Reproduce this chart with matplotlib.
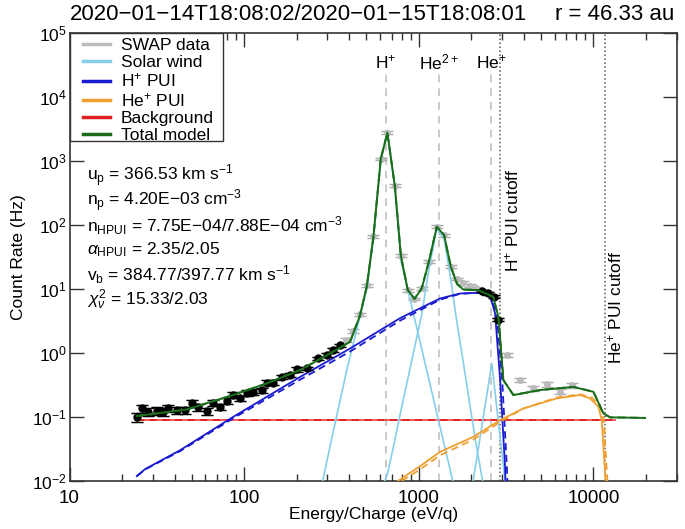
import numpy as np
import matplotlib
matplotlib.use('Agg')
import matplotlib.pyplot as plt
from matplotlib.patches import Rectangle

plt.rcParams['font.family'] = ['Liberation Sans', 'DejaVu Sans']
plt.rcParams['mathtext.fontset'] = 'custom'
plt.rcParams['mathtext.rm'] = 'Liberation Sans'
plt.rcParams['mathtext.it'] = 'Liberation Sans:italic'
plt.rcParams['mathtext.bf'] = 'Liberation Sans:bold'

# SWAP data (energy/charge in eV/q, count rate in Hz)
data_e = [24.3, 25.9, 28.3, 31.6, 34.4, 36.8, 41.1, 45.9, 50.1, 54.7, 61.1, 66.6,
          72.8, 79.5, 86.7, 94.7, 103.5, 112.9, 126.1, 134.7, 147, 164, 183, 200,
          228, 266, 297, 324, 354, 385, 421, 460, 504, 550, 606, 661, 729, 790,
          865, 945, 1040, 1142, 1268, 1396, 1527, 1656, 1800, 1960, 2130, 2300,
          2500, 2700, 2860, 3192, 3802, 4530, 5405, 6442, 7516]
data_c = [0.098, 0.135, 0.120, 0.124, 0.120, 0.135, 0.127, 0.127, 0.162, 0.140, 0.123, 0.166,
          0.143, 0.178, 0.219, 0.194, 0.238, 0.246, 0.262, 0.340, 0.340, 0.423, 0.450, 0.552,
          0.572, 0.820, 0.924, 1.107, 1.32, 1.6, 2.2, 4.0, 11.5, 66.5, 1086, 2782, 411, 33,
          9.6, 7.0, 10.2, 26.7, 94, 69.7, 22.2, 14.3, 12.5, 11.2, 10.3, 9.3,
          8.6, 7.6, 3.3, 0.92, 0.375, 0.278, 0.325, 0.246, 0.313]
data_relerr = [0.15, 0.14, 0.14, 0.14, 0.14, 0.13, 0.13, 0.13, 0.12, 0.12, 0.12, 0.12,
               0.11, 0.11, 0.10, 0.10, 0.10, 0.10, 0.09, 0.09, 0.09, 0.08, 0.08, 0.08,
               0.07, 0.07, 0.07, 0.06, 0.06, 0.06, 0.06, 0.05, 0.05, 0.05, 0.05, 0.05, 0.05, 0.05,
               0.05, 0.05, 0.05, 0.05, 0.05, 0.05, 0.05, 0.05, 0.05, 0.05, 0.05, 0.05,
               0.05, 0.05, 0.05, 0.07, 0.08, 0.09, 0.09, 0.09, 0.09]
# points used in the fit (drawn black)
fit_e = data_e[:29] + data_e[49:53]
fit_c = data_c[:29] + data_c[49:53]
fit_err = data_relerr[:29] + data_relerr[49:53]

# solar wind components
sw_h_e = [282, 310, 387, 504, 550, 606, 661, 729, 790, 1564]
sw_h_c = [0.01, 0.034, 0.54, 10, 62, 1080, 2775, 405, 28, 0.01]
sw_he2_e = [640, 661, 729, 790, 865, 945, 1040, 1142, 1268, 1396, 1527, 1656, 1800, 1960, 2130, 2320]
sw_he2_c = [0.01, 0.0125, 0.043, 0.124, 0.39, 1.2, 4.0, 20, 88, 62, 13.8, 2.9, 0.70, 0.155, 0.037, 0.01]
sw_hep_e = [2050, 2620, 3120]
sw_hep_c = [0.01, 0.686, 0.01]

# H+ pickup ions (solid / dashed fit)
hpui_e = [24.3, 27.1, 43, 86.7, 209, 404, 782, 1324, 1724, 2244, 2560, 2735, 2924, 3120, 3160]
hpui_c = [0.0118, 0.0152, 0.030, 0.10, 0.42, 1.17, 3.5, 7.1, 8.5, 8.7, 7.7, 4.2, 0.375, 0.0165, 0.005]
hpui2_e = [24.3, 27.1, 43, 86.7, 209, 404, 782, 1324, 1724, 2244, 2560, 2800, 3000, 3200, 3250]
hpui2_c = [0.0118, 0.0150, 0.029, 0.095, 0.38, 1.05, 3.2, 6.8, 8.4, 8.8, 8.0, 4.0, 0.4, 0.015, 0.005]

# He+ pickup ions (solid / dashed fit)
hepui_e = [760, 1017, 1324, 2055, 2922, 3972, 6166, 8386, 9572, 10680, 11170, 11410, 11670, 11900]
hepui_c = [0.0099, 0.0169, 0.0283, 0.0486, 0.0888, 0.135, 0.194, 0.219, 0.194, 0.144, 0.0887, 0.034, 0.0131, 0.006]
hepui2_e = [800, 1017, 1324, 2055, 2922, 3972, 6166, 8386, 9800, 10900, 11450, 11700, 11950, 12200]
hepui2_c = [0.0099, 0.0150, 0.0250, 0.0440, 0.083, 0.135, 0.200, 0.225, 0.200, 0.150, 0.090, 0.034, 0.013, 0.006]

# background
bkg_e = [24.3, 13300]
bkg_c = [0.09, 0.09]

# total model
tot_e = [24.3, 46.9, 86.3, 134.6, 209, 323, 404, 460, 504, 550, 606, 661, 729, 790,
         865, 945, 1040, 1142, 1268, 1396, 1527, 1656, 1800, 2188, 2665, 2858, 3052,
         3483, 4952, 7676, 10000, 11410, 12470, 19770]
tot_c = [0.103, 0.130, 0.219, 0.333, 0.538, 1.04, 1.49, 3.8, 11.0, 66, 1086, 2782, 411, 33,
         9.6, 7.0, 10.2, 26.7, 94, 69.7, 22.2, 12.0, 9.8, 9.6, 7.55, 3.67, 0.375,
         0.219, 0.262, 0.294, 0.246, 0.113, 0.098, 0.096]

cutoff_h = 2900
cutoff_he = 11600
ion_lines = [650, 1300, 2600]
ion_names = [r'H$^{+}$', r'He$^{2+}$', r'He$^{+}$']

fig = plt.figure(figsize=(6.85, 5.29), dpi=100)
ax = fig.add_axes([0.1015, 0.0913, 0.8864, 0.8457])
ax.set_xscale('log')
ax.set_yscale('log')

for e in ion_lines:
    ax.plot([e, e], [0.01, 2.3e4], color='#bbbbbb', lw=1.1, ls=(0, (5, 4)), zorder=1)
for e in [cutoff_h, cutoff_he]:
    ax.axvline(e, color='#555555', lw=1.1, ls=(0, (1, 1.6)), zorder=1)

ax.plot(bkg_e, bkg_c, color='#f05050', lw=1.3, zorder=3)
ax.plot(bkg_e, bkg_c, color='#e02020', lw=1.3, ls=(0, (4, 3)), zorder=3)

c_data = np.array(data_c)
ax.errorbar(data_e, data_c, yerr=c_data*np.array(data_relerr), fmt='o', ms=4,
            color='#bbbbbb', ecolor='#aaaaaa', elinewidth=1, capsize=4, capthick=1, zorder=2)

ax.plot(sw_h_e, sw_h_c, color='#87ceeb', lw=1.2, zorder=3)
ax.plot(sw_he2_e, sw_he2_c, color='#87ceeb', lw=1.2, zorder=3)
ax.plot(sw_hep_e, sw_hep_c, color='#87ceeb', lw=1.2, zorder=3)

ax.plot(hpui2_e, hpui2_c, color='#1a1ad0', lw=1.3, ls=(0, (4, 2.5)), zorder=4)
ax.plot(hpui_e, hpui_c, color='#1a1ad0', lw=1.3, zorder=4)
ax.plot(hepui2_e, hepui2_c, color='#f0a030', lw=1.3, ls=(0, (4, 2.5)), zorder=4)
ax.plot(hepui_e, hepui_c, color='#f0a030', lw=1.3, zorder=4)

c_fit = np.array(fit_c)
ax.errorbar(fit_e, fit_c, yerr=c_fit*np.array(fit_err), fmt='o', ms=5,
            color='black', ecolor='black', elinewidth=1, capsize=4, capthick=1, zorder=5)

ax.plot(tot_e, tot_c, color='#1a6e1a', lw=1.4, ls=(0, (4, 2.5)), zorder=6)
ax.plot(tot_e, tot_c, color='#1a6e1a', lw=1.4, zorder=6)

# legend: proxies, frame drawn by hand so it sits in the axes corner
handles = [
    plt.Line2D([], [], color='#bbbbbb', lw=2.5),
    plt.Line2D([], [], color='#87ceeb', lw=2.5),
    plt.Line2D([], [], color='#1a1ad0', lw=2.5),
    plt.Line2D([], [], color='#f0a030', lw=2.5),
    plt.Line2D([], [], color='#e02020', lw=2.5),
    plt.Line2D([], [], color='#1a6e1a', lw=2.5),
]
labels = ['SWAP data', 'Solar wind', r'H$^{+}$ PUI', r'He$^{+}$ PUI', 'Background', 'Total model']
ax.add_patch(Rectangle((0, 0.7593), 0.2528, 0.2407, transform=ax.transAxes, facecolor='white',
                       edgecolor='#333333', lw=1.0, zorder=7))
leg = ax.legend(handles, labels, loc='upper left', bbox_to_anchor=(0.0222, 0.99), borderaxespad=0,
                fontsize=12.5, frameon=False, handlelength=1.55, handletextpad=0.63,
                labelspacing=0.1, borderpad=0)
leg.set_zorder(8)

for e, name in zip(ion_lines, ion_names):
    ax.text(e, 3.56e4, name, ha='center', va='center', fontsize=12.5)
ax.text(3420, 120, r'H$^{+}$ PUI cutoff', rotation=90, ha='center', va='center', fontsize=12.5)
ax.text(13300, 5.2, r'He$^{+}$ PUI cutoff', rotation=90, ha='center', va='center', fontsize=12.5)

info = [r'u$_\mathrm{p}$ = 366.53 km s$^{-1}$',
        r'n$_\mathrm{p}$ = 4.20E$-$03 cm$^{-3}$',
        r'n$_\mathrm{HPUI}$ = 7.75E$-$04/7.88E$-$04 cm$^{-3}$',
        r'$\alpha_\mathrm{HPUI}$ = 2.35/2.05',
        r'v$_\mathrm{b}$ = 384.77/397.77 km s$^{-1}$',
        r'$\chi^2_\nu$ = 15.33/2.03']
for i, s in enumerate(info):
    ax.text(0.029, 0.682 - i * 0.0555, s, transform=ax.transAxes, fontsize=12.5, va='center')

ax.set_xlim(10, 30000)
ax.set_ylim(0.01, 1e5)
ax.set_xticks([10, 100, 1000, 10000])
ax.set_xticklabels(['10', '100', '1000', '10000'])
ax.xaxis.set_minor_formatter(matplotlib.ticker.NullFormatter())
ax.yaxis.set_minor_locator(matplotlib.ticker.NullLocator())
ax.tick_params(which='both', direction='in', top=True, right=True, color='#333333')
ax.tick_params(which='major', length=10, width=1)
ax.tick_params(which='minor', length=5, width=1)
ax.tick_params(axis='x', labelsize=13.5, pad=7)
ax.tick_params(axis='y', labelsize=12.5, pad=2)
for sp in ax.spines.values():
    sp.set_linewidth(1.2)
    sp.set_color('#333333')

ax.set_xlabel('Energy/Charge (eV/q)', fontsize=12.5, labelpad=0)
ax.set_ylabel('Count Rate (Hz)', fontsize=12.5, labelpad=4)

fig.text(0.1015, 0.972, '2020\u221201\u221214T18:08:02/2020\u221201\u221215T18:08:01', fontsize=16, va='center')
fig.text(0.985, 0.972, 'r = 46.33 au', fontsize=16, va='center', ha='right')

plt.savefig('out.png', dpi=100)
